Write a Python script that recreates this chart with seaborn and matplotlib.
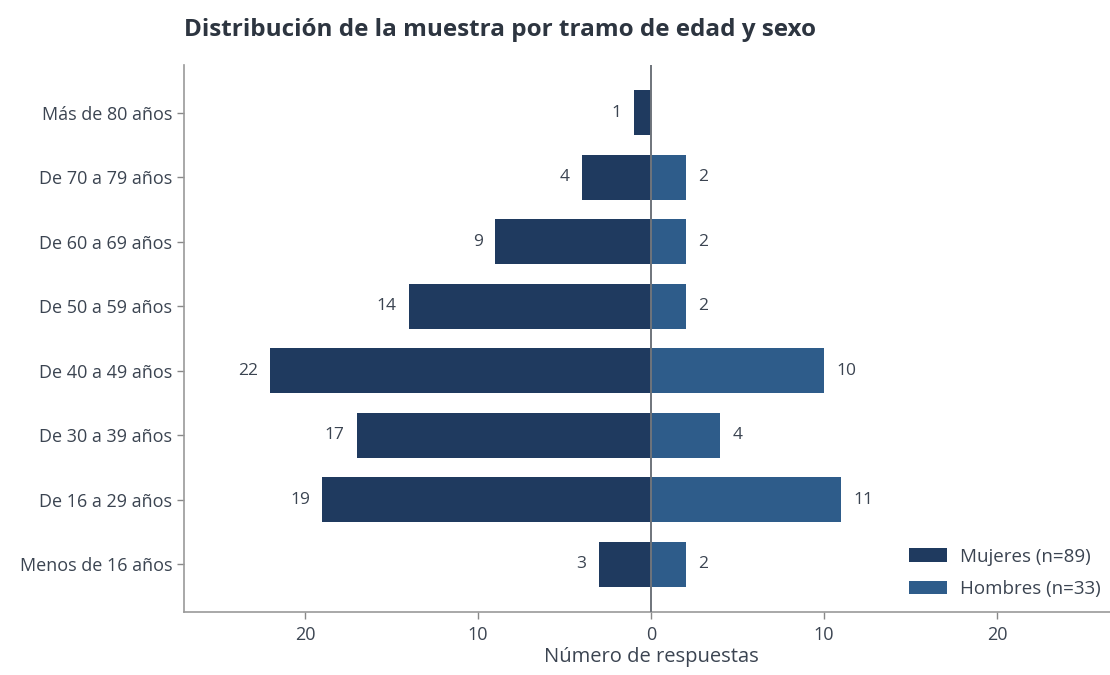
import matplotlib
matplotlib.use("Agg")
import matplotlib.pyplot as plt
import seaborn as sns
import pandas as pd
import numpy as np

categories = ["Más de 80 años", "De 70 a 79 años", "De 60 a 69 años", "De 50 a 59 años",
              "De 40 a 49 años", "De 30 a 39 años", "De 16 a 29 años", "Menos de 16 años"]
mujeres = [1, 4, 9, 14, 22, 17, 19, 3]
hombres = [0, 2, 2, 2, 10, 4, 11, 2]
series_labels = ["Mujeres (n=89)", "Hombres (n=33)"]
colors = ["#1f3a5f", "#2e5c8a"]
xticks = [-20, -10, 0, 10, 20]

sns.set_theme(style="white")
plt.rcParams['font.family'] = ['Open Sans', 'DejaVu Sans']
txt = "#3b4451"

df = pd.DataFrame({
    "cat": categories * 2,
    "val": [-v for v in mujeres] + hombres,
    "sexo": [series_labels[0]] * len(categories) + [series_labels[1]] * len(categories),
})

fig = plt.figure(figsize=(11.1, 6.75), dpi=100)
ax = fig.add_axes([184/1110, 1 - 612/675, 934/1110, (612-65)/675])
sns.barplot(data=df, x="val", y="cat", hue="sexo", order=categories, hue_order=series_labels,
            palette=colors, dodge=False, width=0.7, ax=ax, saturation=1, linewidth=0)

for i, cont in enumerate(ax.containers):
    vals = mujeres if i == 0 else hombres
    labels = [str(v) if v != 0 else "" for v in vals]
    ax.bar_label(cont, labels=labels, padding=9, fontsize=12.5, color=txt)

ax.axvline(0, color="#6f747b", lw=1.4, zorder=5)
ax.set_xlim(-27, 27)
ax.set_ylim(7.74, -0.74)
ax.set_xticks(xticks)
ax.set_xticklabels([str(abs(t)) for t in xticks])
ax.tick_params(axis="both", colors="#888888", labelcolor=txt, labelsize=13, length=5, width=1, direction="out")
ax.tick_params(axis="x", pad=5)
ax.xaxis.set_ticks_position("bottom")
ax.yaxis.set_ticks_position("left")
for s in ["top", "right"]:
    ax.spines[s].set_visible(False)
for s in ["left", "bottom"]:
    ax.spines[s].set_color("#999999")
    ax.spines[s].set_linewidth(1.2)
ax.set_ylabel("")
ax.set_xlabel("Número de respuestas", fontsize=14.5, color=txt, labelpad=2)

ax.legend(loc="lower right", bbox_to_anchor=((1108-184)/934, 0.012), frameon=False,
          fontsize=13.5, labelcolor=txt, handlelength=2.0, handleheight=0.75,
          handletextpad=0.7, labelspacing=0.75, borderaxespad=0)

fig.text(184/1110, 1 - 30/675, "Distribución de la muestra por tramo de edad y sexo",
         fontsize=17.5, fontweight="bold", color="#2d3540", va="center", ha="left")

fig.savefig("out.png", dpi=100)
